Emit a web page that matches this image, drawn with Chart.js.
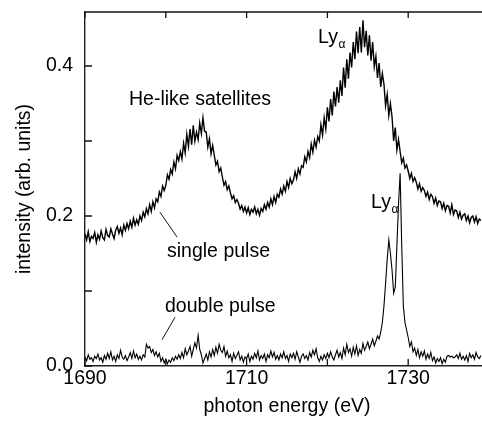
<!DOCTYPE html>
<html>
<head>
<meta charset="utf-8">
<script src="https://cdn.jsdelivr.net/npm/chart.js@4/dist/chart.umd.min.js"></script>
<style>
  html, body { margin: 0; padding: 0; background: #fff; overflow: hidden; }
  #wrap { width: 492px; height: 422px; }
</style>
</head>
<body>
<div id="wrap"><canvas id="chart"></canvas></div>
<script>
// photon energy grid (eV), one reading every 0.2 eV
const energyStart = 1690;
const energyStep = 0.2;

// intensity (arb. units), one row per eV
const singlePulse = [
  0.176, 0.168, 0.179, 0.166, 0.173,
  0.170, 0.178, 0.165, 0.175, 0.169,
  0.180, 0.171, 0.168, 0.182, 0.174,
  0.172, 0.183, 0.176, 0.170, 0.181,
  0.186, 0.177, 0.184, 0.175, 0.188,
  0.181, 0.190, 0.183, 0.193, 0.185,
  0.197, 0.188, 0.195, 0.189, 0.200,
  0.194, 0.205, 0.199, 0.210, 0.203,
  0.215, 0.206, 0.219, 0.211, 0.223,
  0.219, 0.232, 0.226, 0.240, 0.234,
  0.241, 0.255, 0.249, 0.262, 0.256,
  0.272, 0.263, 0.281, 0.274, 0.286,
  0.276, 0.297, 0.284, 0.309, 0.293,
  0.316, 0.295, 0.321, 0.300, 0.312,
  0.302, 0.324, 0.310, 0.331, 0.313,
  0.312, 0.292, 0.303, 0.283, 0.294,
  0.281, 0.268, 0.273, 0.259, 0.264,
  0.252, 0.241, 0.246, 0.235, 0.240,
  0.231, 0.223, 0.227, 0.218, 0.222,
  0.217, 0.209, 0.214, 0.206, 0.212,
  0.204, 0.211, 0.202, 0.209, 0.205,
  0.212, 0.203, 0.209, 0.201, 0.210,
  0.206, 0.215, 0.209, 0.218, 0.212,
  0.223, 0.215, 0.226, 0.218, 0.229,
  0.225, 0.236, 0.229, 0.240, 0.233,
  0.246, 0.238, 0.250, 0.243, 0.248,
  0.259, 0.250, 0.263, 0.256, 0.267,
  0.265, 0.279, 0.272, 0.286, 0.278,
  0.296, 0.285, 0.301, 0.292, 0.306,
  0.300, 0.322, 0.308, 0.331, 0.316,
  0.345, 0.326, 0.356, 0.334, 0.366,
  0.346, 0.372, 0.351, 0.381, 0.360,
  0.398, 0.371, 0.409, 0.383, 0.418,
  0.398, 0.432, 0.409, 0.446, 0.417,
  0.452, 0.418, 0.461, 0.425, 0.447,
  0.414, 0.441, 0.407, 0.432, 0.399,
  0.413, 0.384, 0.404, 0.372, 0.390,
  0.376, 0.347, 0.362, 0.334, 0.350,
  0.332, 0.300, 0.318, 0.288, 0.302,
  0.286, 0.271, 0.277, 0.264, 0.268,
  0.260, 0.250, 0.257, 0.246, 0.251,
  0.245, 0.236, 0.243, 0.233, 0.238,
  0.234, 0.226, 0.232, 0.222, 0.229,
  0.226, 0.217, 0.224, 0.214, 0.220,
  0.219, 0.210, 0.217, 0.207, 0.214,
  0.213, 0.204, 0.215, 0.202, 0.208,
  0.207, 0.198, 0.205, 0.196, 0.201,
  0.203, 0.194, 0.200, 0.191, 0.198,
  0.200, 0.192, 0.199, 0.190, 0.196,
  0.194
];

const doublePulse = [
  0.012, 0.007, 0.015, 0.009, 0.011,
  0.006, 0.013, 0.010, 0.016, 0.008,
  0.011, 0.005, 0.014, 0.009, 0.017,
  0.010, 0.019, 0.008, 0.013, 0.006,
  0.015, 0.010, 0.021, 0.012, 0.009,
  0.014, 0.007, 0.012, 0.018, 0.010,
  0.020, 0.011, 0.016, 0.009, 0.013,
  0.008, 0.015, 0.012, 0.029, 0.024,
  0.026, 0.018, 0.022, 0.014, 0.019,
  0.012, 0.017, 0.006, 0.011, 0.004,
  0.009, 0.003, 0.008, 0.005, 0.011,
  0.007, 0.013, 0.009, 0.015, 0.010,
  0.018, 0.011, 0.023, 0.015, 0.020,
  0.026, 0.013, 0.022, 0.031, 0.024,
  0.041, 0.022, 0.015, 0.004, 0.010,
  0.016, 0.008, 0.019, 0.012, 0.022,
  0.014, 0.025, 0.017, 0.029, 0.021,
  0.018, 0.026, 0.013, 0.020, 0.011,
  0.015, 0.006, 0.017, 0.010, 0.014,
  0.019, 0.008, 0.013, 0.005, 0.012,
  0.010, 0.016, 0.006, 0.013, 0.009,
  0.017, 0.011, 0.020, 0.008, 0.014,
  0.010, 0.016, 0.006, 0.015, 0.011,
  0.020, 0.012, 0.018, 0.009, 0.014,
  0.008, 0.016, 0.011, 0.019, 0.010,
  0.014, 0.006, 0.016, 0.011, 0.017,
  0.009, 0.019, 0.012, 0.005, 0.013,
  0.016, 0.010, 0.014, 0.008, 0.018,
  0.012, 0.021, 0.015, 0.023, 0.011,
  0.006, 0.013, 0.008, 0.015, 0.010,
  0.017, 0.011, 0.019, 0.012, 0.008,
  0.015, 0.021, 0.012, 0.018, 0.010,
  0.024, 0.015, 0.029, 0.018, 0.023,
  0.013, 0.025, 0.016, 0.027, 0.014,
  0.022, 0.017, 0.030, 0.021, 0.026,
  0.032, 0.023, 0.029, 0.036, 0.027,
  0.033, 0.040, 0.036, 0.045, 0.058,
  0.080, 0.110, 0.142, 0.168, 0.150,
  0.128, 0.097, 0.105, 0.160, 0.215,
  0.257, 0.160, 0.080, 0.058, 0.048,
  0.038, 0.026, 0.032, 0.019, 0.024,
  0.014, 0.022, 0.011, 0.019, 0.013,
  0.020, 0.009, 0.016, 0.010, 0.018,
  0.007, 0.012, 0.004, 0.010, 0.006,
  0.011, 0.003, 0.009, 0.005, 0.013,
  0.014, 0.012, 0.013, 0.011, 0.012,
  0.015, 0.010, 0.017, 0.009, 0.013,
  0.008, 0.014, 0.006, 0.017, 0.011,
  0.015, 0.009, 0.018, 0.012, 0.010,
  0.014
];

const xTickLabels = [1690, 1710, 1730];
const yTickLabels = ['0.0', '0.2', '0.4'];

// text labels placed in data units: [text, subscript, energy, intensity]
const notes = [
  ['He-like satellites', '', 1695.45, 0.348],
  ['Ly', 'α', 1718.84, 0.431],
  ['Ly', 'α', 1725.4, 0.211],
  ['single pulse', '', 1700.15, 0.145],
  ['double pulse', '', 1699.9, 0.072]
];
// leader lines: [e1, i1, e2, i2]
const leaders = [
  [1699.28, 0.205, 1701.39, 0.172],
  [1701.14, 0.065, 1699.53, 0.035]
];

const FONT = '"Liberation Sans", Arial, Helvetica, sans-serif';
const toPoints = arr => arr.map((v, i) => ({ x: energyStart + i * energyStep, y: v }));

const frameTicks = {
  id: 'frameTicks',
  afterDraw(chart) {
    const { ctx, chartArea: a, scales: { x, y } } = chart;
    ctx.save();
    ctx.strokeStyle = '#111';
    ctx.lineWidth = 1.3;
    ctx.beginPath();
    // top border
    ctx.moveTo(a.left, a.top);
    ctx.lineTo(a.right + 5, a.top);
    // inward ticks
    x.ticks.forEach(t => {
      const px = x.getPixelForValue(t.value);
      ctx.moveTo(px, a.bottom); ctx.lineTo(px, a.bottom - 7);
      ctx.moveTo(px, a.top); ctx.lineTo(px, a.top + 6);
    });
    y.ticks.forEach(t => {
      const py = y.getPixelForValue(t.value);
      ctx.moveTo(a.left, py); ctx.lineTo(a.left + 7, py);
    });
    ctx.stroke();

    ctx.lineWidth = 1;
    ctx.beginPath();
    leaders.forEach(l => {
      ctx.moveTo(x.getPixelForValue(l[0]), y.getPixelForValue(l[1]));
      ctx.lineTo(x.getPixelForValue(l[2]), y.getPixelForValue(l[3]));
    });
    ctx.stroke();

    ctx.fillStyle = '#000';
    ctx.textBaseline = 'alphabetic';
    ctx.textAlign = 'left';
    notes.forEach(n => {
      const px = x.getPixelForValue(n[2]);
      const py = y.getPixelForValue(n[3]);
      ctx.font = '19.5px ' + FONT;
      ctx.fillText(n[0], px, py);
      if (n[1]) {
        const w = ctx.measureText(n[0]).width;
        ctx.font = '12px ' + FONT;
        ctx.fillText(n[1], px + w + 0.5, py + 5);
      }
    });
    ctx.restore();
  }
};

new Chart(document.getElementById('chart'), {
  type: 'line',
  data: {
    datasets: [
      {
        label: 'single pulse',
        data: toPoints(singlePulse),
        borderColor: '#000',
        borderWidth: 1.4,
        pointRadius: 0,
        fill: false
      },
      {
        label: 'double pulse',
        data: toPoints(doublePulse),
        borderColor: '#000',
        borderWidth: 1.1,
        pointRadius: 0,
        fill: false
      }
    ]
  },
  options: {
    responsive: true,
    maintainAspectRatio: false,
    animation: false,
    layout: { padding: { top: 12, right: 3, left: 0, bottom: 0 } },
    plugins: { legend: { display: false }, tooltip: { enabled: false } },
    scales: {
      x: {
        type: 'linear',
        min: 1690,
        max: 1740,
        afterFit: s => { s.height = 56; s.paddingLeft = 0; s.paddingRight = 0; },
        grid: { display: true, drawOnChartArea: false, drawTicks: false },
        border: { display: true, color: '#222', width: 1.6 },
        ticks: {
          stepSize: 10,
          includeBounds: false,
          autoSkip: false,
          maxRotation: 0,
          padding: 1,
          color: '#000',
          font: { family: FONT, size: 19.5 },
          callback: v => xTickLabels.includes(v) ? String(v) : ''
        },
        title: {
          display: true,
          text: 'photon energy (eV)',
          color: '#000',
          font: { family: FONT, size: 19.5 },
          padding: { top: 0, bottom: 4 }
        }
      },
      y: {
        min: 0,
        max: 0.472,
        afterFit: s => { s.width = 85; s.paddingTop = 0; s.paddingBottom = 0; },
        grid: { display: true, drawOnChartArea: false, drawTicks: false },
        border: { display: true, color: '#222', width: 1.4 },
        ticks: {
          stepSize: 0.1,
          includeBounds: false,
          autoSkip: false,
          padding: 12,
          color: '#000',
          font: { family: FONT, size: 19.5 },
          callback: v => {
            const s = v.toFixed(1);
            return yTickLabels.includes(s) ? s : '';
          }
        },
        title: {
          display: true,
          text: 'intensity (arb. units)',
          color: '#000',
          font: { family: FONT, size: 19.5 },
          padding: { top: 13, bottom: 0 }
        }
      }
    }
  },
  plugins: [frameTicks]
});
</script>
</body>
</html>
